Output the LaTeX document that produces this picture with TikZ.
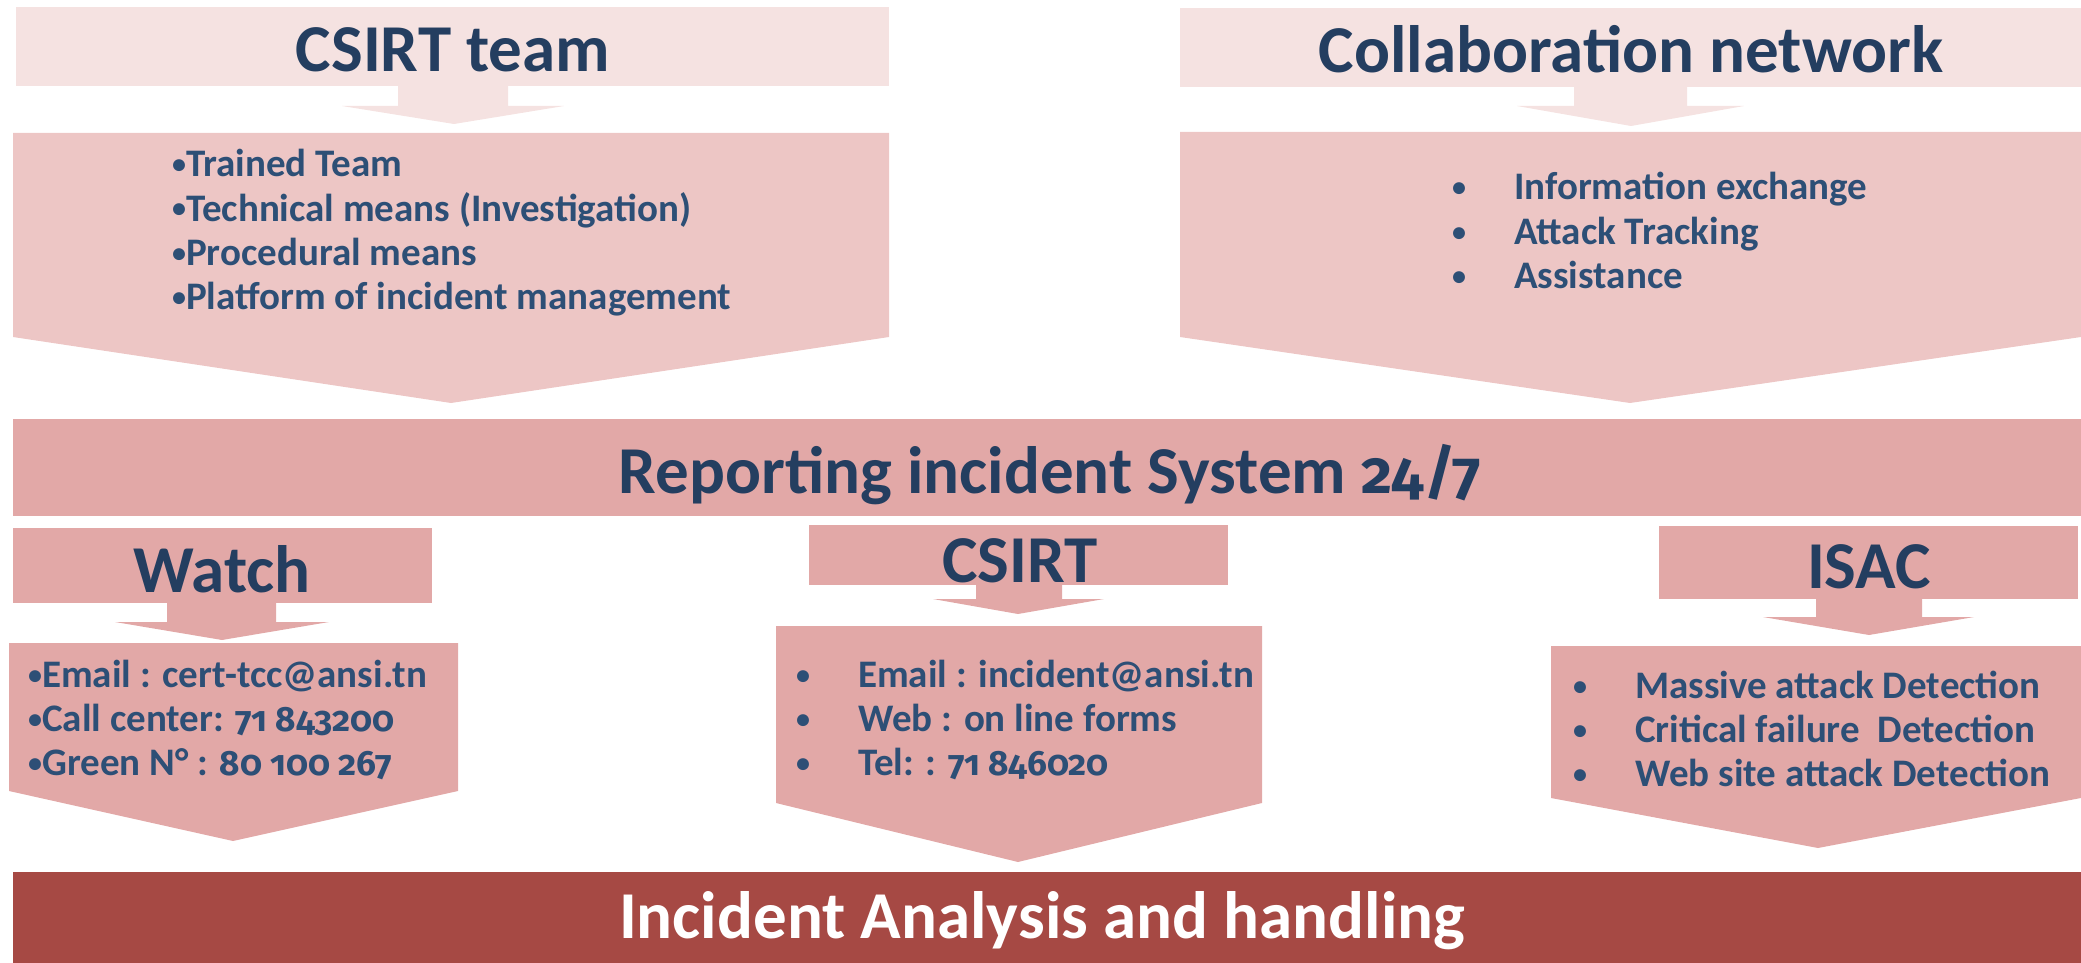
\documentclass[tikz,border=0pt]{standalone}
\usepackage{fontspec}
\setmainfont{Carlito}
\newfontfamily\onumfont{Fira Sans}[Numbers=OldStyle,Scale=0.9]
\definecolor{hdrpink}{HTML}{F5E2E1}
\definecolor{bodypink}{HTML}{EDC6C5}
\definecolor{midpink}{HTML}{E2A8A7}
\definecolor{darkred}{HTML}{A64944}
\definecolor{navy}{HTML}{243E60}
\definecolor{itemblue}{HTML}{2D4F76}
\tikzstyle{head}=[inner sep=0pt,anchor=base,text=navy,font=\fontsize{67}{72}\selectfont\bfseries]
\tikzstyle{item}=[inner sep=0pt,anchor=base west,text=itemblue,font=\fontsize{39}{44}\selectfont\bfseries]
\newcommand{\dotb}{\raisebox{3pt}{\scalebox{0.72}{•}}}
\newcommand{\bul}{\makebox[62pt][l]{\dotb}}
\newcommand{\on}[1]{{\onumfont #1}}
\begin{document}
\begin{tikzpicture}[x=1pt,y=-1pt]
  \useasboundingbox (0,0) rectangle (2081,963);

  % CSIRT team
  \fill[hdrpink] (16,7) rectangle (889,86);
  \fill[hdrpink] (398,86) -- (508,86) -- (508,106) -- (564,106) -- (454,124) -- (342,106) -- (398,106) -- cycle;
  \fill[bodypink] (13,133) -- (889,133) -- (889,337) -- (451,403) -- (13,337) -- cycle;
  \node[head] (team) at (453,72) {CSIRT team};
  \foreach \txt [count=\i] in {Trained Team,Technical means (Investigation),Procedural means,Platform of incident management}
    \node[item] (team\i) at (172,{177+44*(\i-1)}) {\dotb\txt};

  % collaboration network
  \fill[hdrpink] (1180,8) rectangle (2081,87);
  \fill[hdrpink] (1574,87) -- (1687,87) -- (1687,106) -- (1744,106) -- (1631,126) -- (1517,106) -- (1574,106) -- cycle;
  \fill[bodypink] (1180,132) -- (2081,132) -- (2081,337) -- (1630,403) -- (1180,337) -- cycle;
  \node[head] (collab) at (1631,73) {Collaboration network};
  \foreach \txt [count=\i] in {Information exchange,Attack Tracking,Assistance}
    \node[item] (collab\i) at (1452,{200+44*(\i-1)}) {\bul\txt};

  % reporting bar
  \fill[midpink] (13,419) rectangle (2081,516);
  \node[head] (report) at (1050,493) {Reporting incident System \on{24/7}};

  % watch
  \fill[midpink] (13,528) rectangle (432,603);
  \fill[midpink] (167,603) -- (276,603) -- (276,622) -- (329,622) -- (222,640) -- (115,622) -- (167,622) -- cycle;
  \fill[midpink] (9,643) -- (458,643) -- (458,791) -- (233,841) -- (9,791) -- cycle;
  \node[head] (watch) at (222,592) {Watch};
  \foreach \txt [count=\i] in {Email : cert-tcc@ansi.tn,Call center: \on{71 843200},Green N° : \on{80 100 267}}
    \node[item] (watch\i) at (28,{687+44*(\i-1)}) {\dotb\txt};

  % csirt
  \fill[midpink] (809,525) rectangle (1228,585);
  \fill[midpink] (976,585) -- (1062,585) -- (1062,599) -- (1104,599) -- (1018,614) -- (933,599) -- (976,599) -- cycle;
  \fill[midpink] (776,626) -- (1262,626) -- (1262,803) -- (1018,862) -- (776,803) -- cycle;
  \node[head] (csirt) at (1020,582) {CSIRT};
  \foreach \txt [count=\i] in {Email : incident@ansi.tn,Web : on line forms,Tel: : \on{71 846020}}
    \node[item] (csirt\i) at (796,{687+44*(\i-1)}) {\bul\txt};

  % isac
  \fill[midpink] (1659,526) rectangle (2078,599);
  \fill[midpink] (1816,599) -- (1922,599) -- (1922,617) -- (1974,617) -- (1869,635) -- (1763,617) -- (1816,617) -- cycle;
  \fill[midpink] (1551,646) -- (2081,646) -- (2081,798) -- (1818,848) -- (1551,798) -- cycle;
  \node[head] (isac) at (1869,588) {ISAC};
  \foreach \txt [count=\i] in {Massive attack Detection,Critical failure\ \ Detection,Web site attack Detection}
    \node[item] (isac\i) at (1573,{698+44*(\i-1)}) {\bul\txt};

  % incident analysis bar
  \fill[darkred] (13,872) rectangle (2081,963);
  \node[head,text=white] (handle) at (1042,938) {Incident Analysis and handling};
\end{tikzpicture}
\end{document}
